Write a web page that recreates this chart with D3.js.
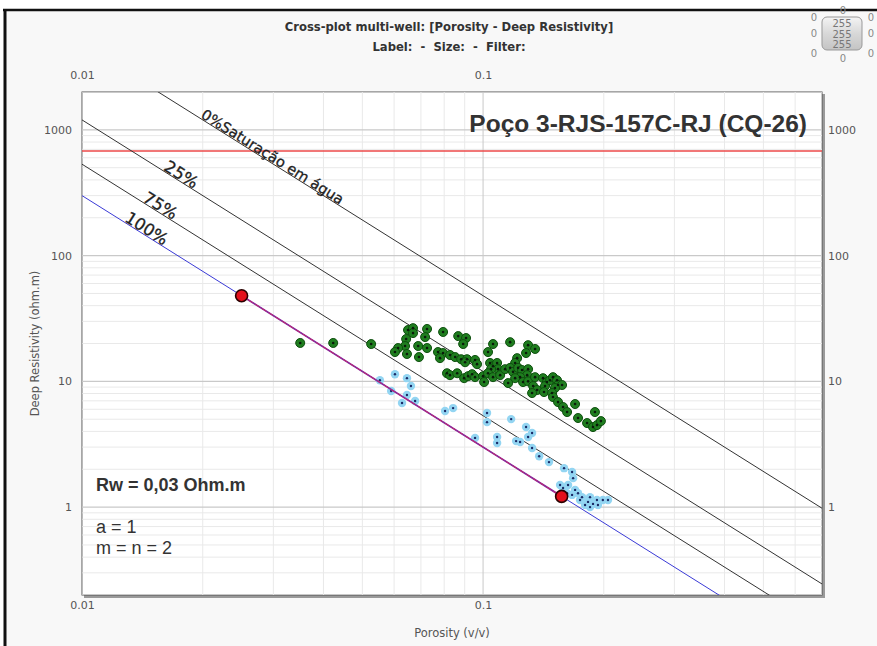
<!DOCTYPE html>
<html><head><meta charset="utf-8">
<script src="https://cdn.jsdelivr.net/npm/d3@7"></script>
<style>body{margin:0;background:#fff;} svg{display:block}</style>
</head><body><svg id="c" width="877" height="646"></svg>
<script>
// ---------- data ----------
const titleText = "Cross-plot multi-well: [Porosity - Deep Resistivity]";
const subtitleText = "Label:  -  Size:  -  Filter:";
const wellName = "Poço 3-RJS-157C-RJ (CQ-26)";
const xAxisTitle = "Porosity (v/v)";
const yAxisTitle = "Deep Resistivity (ohm.m)";
const xDomain = [0.01, 0.7];
const yDomain = [0.2, 2000];
const xTickValues = [0.01, 0.1];
const xTickLabels = ["0.01", "0.1"];
const yTickValues = [1, 10, 100, 1000];
const yTickLabels = ["1", "10", "100", "1000"];
const archieA = 1, archieM = 2, archieN = 2, archieRw = 0.03;
const swValues = [1, 0.75, 0.5, 0.25];
const swLabels = ["100%", "75%", "25%", "0%Saturação em água"];
const paramTexts = ["Rw = 0,03 Ohm.m", "a = 1", "m = n = 2"];
const redLineRt = 680;
const keyPhi = [0.025, 0.157];
const widgetOuter = ["0","0","0","0","0","0","0","0"];
const widgetInner = ["255","255","255"];

const greenPhi = [0.035,0.0423,0.0526,0.065,0.0669,0.0669,0.0725,0.0717,0.0643,0.0639,
  0.0614,0.0603,0.0646,0.0689,0.0692,0.0725,0.0795,0.0867,0.0772,0.0795,
  0.0781,0.0827,0.0852,0.0813,0.0827,0.0862,0.0907,0.0892,0.0882,0.0912,
  0.0902,0.0955,0.0966,0.0897,0.0918,0.0939,0.0955,0.1,0.1006,0.1029,
  0.1059,0.1168,0.1295,0.1348,0.128,0.1216,0.1202,0.1041,0.1059,0.1084,
  0.109,0.1047,0.1029,0.1059,0.1103,0.1135,0.1168,0.1188,0.1223,0.1251,
  0.1295,0.1288,0.1237,0.1202,0.1155,0.1258,0.1295,0.1348,0.1333,0.1364,
  0.1325,0.1411,0.1443,0.1427,0.1419,0.1469,0.1494,0.1529,0.1538,0.1574,
  0.1511,0.1486,0.1494,0.1538,0.1583,0.162,0.1696,0.1725,0.1817,0.188,
  0.1923,0.1967,0.1901];
const greenRt = [20.2,20.2,19.8,25.6,26.5,24.2,26.1,22.5,21.7,19.1,
  18.4,17.1,16.5,19.1,15.6,18.4,24.7,22.9,17.1,16.8,
  15.3,16.2,15.6,11.6,11.2,11.6,22.1,19.8,15.0,15.0,
  14.2,14.8,13.7,10.6,11.0,11.4,10.8,11.0,9.87,17.1,
  19.8,20.5,19.4,18.1,16.8,15.3,14.0,14.0,13.2,14.0,
  12.5,12.5,11.6,10.8,11.2,12.5,12.8,11.9,12.8,12.3,
  12.5,11.2,10.8,10.6,9.69,9.87,10.0,10.8,9.18,8.53,
  8.07,10.6,9.87,9.18,8.22,10.2,10.8,10.2,9.35,9.35,
  8.85,8.07,7.5,6.84,6.25,5.7,6.6,5.11,4.66,4.33,
  4.49,4.83,5.7];

const bluePhi = [0.0603,0.0646,0.0661,0.0553,0.059,0.0646,0.0628,0.0677,0.0804,0.0842,
  0.1023,0.1023,0.1175,0.0955,0.1084,0.1084,0.1209,0.1237,0.128,0.1325,
  0.1295,0.1325,0.138,0.146,0.1592,0.1667,0.1677,0.1629,0.1696,0.1725,
  0.1667,0.162,0.1765,0.1848,0.1923,0.1989,0.2049,0.1827,0.188,0.1796,
  0.1848,0.1934,0.1745,0.1583,0.1556];
const blueRt = [11.4,10.6,9.18,10.2,8.37,7.78,6.72,6.97,5.81,6.13,
  5.6,4.74,5.01,3.55,3.61,3.23,3.35,3.29,4.33,3.88,
  3.61,2.95,2.54,2.28,2.04,1.9,1.7,1.5,1.37,1.29,
  1.25,1.29,1.2,1.2,1.14,1.14,1.14,1.1,1.06,1.04,
  1.0,1.04,1.14,1.42,1.5];

// ---------- drawing ----------
const svg = d3.select("#c");
const W = 877, H = 646;
const L = 82, R = 822, T = 92, B = 595;
const x = d3.scaleLog().domain(xDomain).range([L, R]);
const y = d3.scaleLog().domain(yDomain).range([B, T]);
const archie = (phi, sw) => archieA * archieRw / (Math.pow(phi, archieM) * Math.pow(sw, archieN));

// background + frame
svg.append("rect").attr("x",0).attr("y",0).attr("width",W).attr("height",H).attr("fill","#fff");
svg.append("rect").attr("x",6).attr("y",11).attr("width",W).attr("height",H).attr("fill","#f8f8f8");
svg.append("line").attr("x1",3).attr("x2",W).attr("y1",10).attr("y2",10).attr("stroke","#111").attr("stroke-width",2.5);
svg.append("line").attr("x1",5).attr("x2",5).attr("y1",9).attr("y2",H).attr("stroke","#111").attr("stroke-width",3);

// titles
svg.append("text").attr("x",449).attr("y",31).attr("text-anchor","middle")
  .attr("font-family","DejaVu Sans").attr("font-weight","bold").attr("font-size",11.6)
  .attr("fill","#333").text(titleText);
svg.append("text").attr("x",449).attr("y",51).attr("text-anchor","middle")
  .attr("font-family","DejaVu Sans").attr("font-weight","bold").attr("font-size",11.6)
  .attr("fill","#333").style("white-space","pre").text(subtitleText);

// widget top-right
const wg = svg.append("g");
const wDefs = svg.append("defs");
const grad = wDefs.append("linearGradient").attr("id","btn").attr("x1",0).attr("x2",0).attr("y1",0).attr("y2",1);
grad.append("stop").attr("offset","0%").attr("stop-color","#f4f4f4");
grad.append("stop").attr("offset","50%").attr("stop-color","#d8d8d8");
grad.append("stop").attr("offset","100%").attr("stop-color","#c4c4c4");
wg.append("rect").attr("x",822).attr("y",17).attr("width",40).attr("height",33).attr("rx",5)
  .attr("fill","url(#btn)").attr("stroke","#999");
const outerPos = [[814,21],[843,14],[871,21],[814,37],[871,37],[814,57],[843,62],[871,57]];
widgetOuter.forEach((t,i)=>{
  wg.append("text").attr("x",outerPos[i][0]).attr("y",outerPos[i][1]).attr("text-anchor","middle")
    .attr("font-family","DejaVu Sans").attr("font-size",10).attr("fill","#888").text(t);
});
widgetInner.forEach((t,i)=>{
  wg.append("text").attr("x",842).attr("y",27+i*10.5).attr("text-anchor","middle")
    .attr("font-family","DejaVu Sans").attr("font-size",10).attr("fill","#777").text(t);
});

// plot area with shadow
svg.append("rect").attr("x",L+2).attr("y",T+2).attr("width",R-L+1).attr("height",B-T+1).attr("fill","#9a9a9a");
svg.append("rect").attr("x",L).attr("y",T).attr("width",R-L).attr("height",B-T).attr("fill","#fff")
  .attr("stroke","#555").attr("stroke-width",1);

svg.append("clipPath").attr("id","clip").append("rect").attr("x",L).attr("y",T).attr("width",R-L).attr("height",B-T);
const g = svg.append("g").attr("clip-path","url(#clip)");

// grid
const xMinor = x.ticks().filter(v => !xTickValues.includes(v));
const yMinor = y.ticks().filter(v => !yTickValues.includes(v));
g.selectAll(".xm").data(xMinor).join("line").attr("x1",d=>x(d)).attr("x2",d=>x(d)).attr("y1",T).attr("y2",B)
  .attr("stroke","#e9e9e9").attr("stroke-width",1);
g.selectAll(".ym").data(yMinor).join("line").attr("y1",d=>y(d)).attr("y2",d=>y(d)).attr("x1",L).attr("x2",R)
  .attr("stroke","#e9e9e9").attr("stroke-width",1);
g.selectAll(".xM").data(xTickValues).join("line").attr("x1",d=>x(d)).attr("x2",d=>x(d)).attr("y1",T).attr("y2",B)
  .attr("stroke","#c9c9c9").attr("stroke-width",1);
g.selectAll(".yM").data(yTickValues).join("line").attr("y1",d=>y(d)).attr("y2",d=>y(d)).attr("x1",L).attr("x2",R)
  .attr("stroke","#c9c9c9").attr("stroke-width",1.3);

// red horizontal line
g.append("line").attr("x1",L).attr("x2",R).attr("y1",y(redLineRt)).attr("y2",y(redLineRt))
  .attr("stroke","#ec4a4a").attr("stroke-width",1.5);

// Archie lines
const line = d3.line().x(d=>x(d[0])).y(d=>y(d[1]));
swValues.forEach((sw,i)=>{
  const pts = [xDomain[0], xDomain[1]].map(p=>[p, archie(p, sw)]);
  g.append("path").attr("d", line(pts)).attr("fill","none")
    .attr("stroke", sw === 1 ? "#3a3ad6" : "#333").attr("stroke-width",1);
});

// line labels
const angle = Math.atan2(y(archie(0.02,1)) - y(archie(0.01,1)), x(0.02) - x(0.01)) * 180 / Math.PI;
const labelPhi = [0.0127, 0.0141, 0.0159, 0.0197];
const labelSize = [16.5, 16.5, 16.5, 14.5];
swValues.forEach((sw,i)=>{
  const px = x(labelPhi[i]), py = y(archie(labelPhi[i], sw)) - 1;
  svg.append("text").attr("transform",`translate(${px},${py}) rotate(${angle})`)
    .attr("font-family","DejaVu Sans").attr("font-size",labelSize[i]).attr("fill","#222")
    .attr("stroke","#222").attr("stroke-width",0.3)
    .text(swLabels[i]);
});

// points - green
const gp = g.append("g");
greenPhi.forEach((p,i)=>{
  gp.append("circle").attr("cx",x(p)).attr("cy",y(greenRt[i])).attr("r",4.5)
    .attr("fill","#1f7d1f").attr("stroke","#0e4f0e").attr("stroke-width",1);
});
greenPhi.forEach((p,i)=>{
  gp.append("circle").attr("cx",x(p)).attr("cy",y(greenRt[i])).attr("r",1.3).attr("fill","#0a1a0a");
});
// points - blue
const bp = g.append("g");
bluePhi.forEach((p,i)=>{
  bp.append("circle").attr("cx",x(p)).attr("cy",y(blueRt[i])).attr("r",4.2)
    .attr("fill","#93d5f2");
});
bluePhi.forEach((p,i)=>{
  bp.append("circle").attr("cx",x(p)).attr("cy",y(blueRt[i])).attr("r",1.2).attr("fill","#1b2a66");
});

// key segment and points
const keyPts = keyPhi.map(p=>[p, archie(p,1)]);
g.append("path").attr("d", line(keyPts)).attr("fill","none").attr("stroke","#8a2a9a").attr("stroke-width",1.8);
g.append("path").attr("d", line(keyPts)).attr("fill","none").attr("stroke","#c8286a").attr("stroke-width",0.9)
  .attr("stroke-dasharray","5,3");
keyPts.forEach(d=>{
  g.append("circle").attr("cx",x(d[0])).attr("cy",y(d[1])).attr("r",6)
    .attr("fill","#e3101c").attr("stroke","#2a0000").attr("stroke-width",1.6);
});

// axes
const fmtX = d => xTickLabels[xTickValues.indexOf(d)];
const fmtY = d => yTickLabels[yTickValues.indexOf(d)];
function styleAxis(sel){
  sel.select(".domain").remove();
  sel.selectAll(".tick line").remove();
  sel.selectAll("text").attr("font-family","DejaVu Sans").attr("font-size",11).attr("fill","#555");
}
svg.append("g").attr("transform",`translate(0,${T})`)
  .call(d3.axisTop(x).tickValues(xTickValues).tickFormat(fmtX).tickSize(0).tickPadding(13)).call(styleAxis);
svg.append("g").attr("transform",`translate(0,${B})`)
  .call(d3.axisBottom(x).tickValues(xTickValues).tickFormat(fmtX).tickSize(0).tickPadding(6)).call(styleAxis);
svg.append("g").attr("transform",`translate(${L},0)`)
  .call(d3.axisLeft(y).tickValues(yTickValues).tickFormat(fmtY).tickSize(0).tickPadding(10)).call(styleAxis);
svg.append("g").attr("transform",`translate(${R},0)`)
  .call(d3.axisRight(y).tickValues(yTickValues).tickFormat(fmtY).tickSize(0).tickPadding(6)).call(styleAxis);

// axis titles
svg.append("text").attr("x",(L+R)/2).attr("y",637).attr("text-anchor","middle")
  .attr("font-family","DejaVu Sans").attr("font-size",11.5).attr("fill","#555").text(xAxisTitle);
svg.append("text").attr("transform",`translate(39,${(T+B)/2}) rotate(-90)`).attr("text-anchor","middle")
  .attr("font-family","DejaVu Sans").attr("font-size",11.5).attr("fill","#555").text(yAxisTitle);

// annotations
svg.append("text").attr("x",807).attr("y",132).attr("text-anchor","end")
  .attr("font-family","Liberation Sans").attr("font-weight","bold").attr("font-size",24.5)
  .attr("fill","#333").text(wellName);
svg.append("text").attr("x",96).attr("y",491).attr("font-family","Liberation Sans").attr("font-weight","bold")
  .attr("font-size",18).attr("fill","#333").text(paramTexts[0]);
svg.append("text").attr("x",96).attr("y",533).attr("font-family","Liberation Sans")
  .attr("font-size",18).attr("fill","#333").text(paramTexts[1]);
svg.append("text").attr("x",96).attr("y",554).attr("font-family","Liberation Sans")
  .attr("font-size",18).attr("fill","#333").text(paramTexts[2]);
</script></body></html>
